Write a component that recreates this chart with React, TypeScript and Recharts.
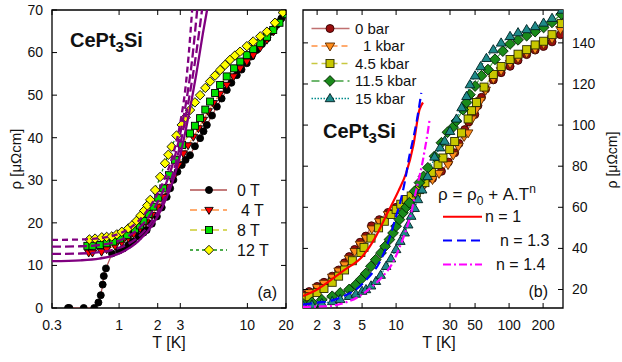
import { LineChart, Line, XAxis, YAxis, ReferenceArea, Legend } from "recharts";

const FONT = "'Liberation Sans', Arial, Helvetica, sans-serif";

// ---------- panel (a): rho(T) in field ----------
const tA0 = [0.4, 0.41, 0.53, 0.64, 0.69, 0.72, 0.745, 0.76, 0.79, 0.88, 1.0, 1.08, 1.18, 1.29, 1.42, 1.55, 1.64, 1.8, 1.97, 2.15, 2.35, 2.5, 2.65, 2.85, 3.08, 3.3, 3.57, 3.9, 4.28, 4.55, 4.83, 5.3, 5.78, 6.3, 6.91, 7.5, 8.27, 9.0, 9.89, 10.8, 11.8, 13.0, 14.2, 15.5, 16.9, 18.4, 20];
const rhoA0 = [0, 0, 0, 0, 1.3, 3.0, 5.5, 7.5, 9.3, 12.8, 13.5, 14.0, 14.8, 15.6, 16.8, 17.7, 18.3, 19.8, 21.5, 23.6, 26.1, 28.1, 30.1, 32.0, 33.6, 34.8, 35.9, 38.0, 39.9, 41.5, 43.0, 45.2, 47.3, 49.2, 51.2, 52.9, 54.7, 56.0, 57.5, 59.1, 60.6, 62.0, 63.3, 64.9, 66.5, 68.0, 69.4];

const tA4 = [0.58, 0.62, 0.73, 0.8, 0.93, 1.05, 1.18, 1.3, 1.46, 1.62, 1.8, 2.0, 2.21, 2.42, 2.65, 2.9, 3.17, 3.45, 3.79, 4.15, 4.54, 4.95, 5.43, 6.1, 6.91, 7.8, 8.77, 9.9, 11.1, 12.6, 14.2, 16.0, 17.8, 19.8];
const rhoA4 = [13.0, 13.0, 13.2, 13.8, 14.6, 15.4, 16.4, 17.4, 18.7, 20.1, 21.8, 23.8, 26.1, 28.4, 30.8, 33.6, 36.3, 38.2, 40.2, 42.2, 44.2, 46.2, 48.1, 50.3, 52.4, 54.4, 56.3, 57.9, 59.4, 61.2, 63.0, 65.0, 67.1, 69.2];

const tA8 = [0.566, 0.62, 0.711, 0.8, 0.9, 1.02, 1.15, 1.33, 1.45, 1.55, 1.7, 1.85, 2.02, 2.21, 2.45, 2.73, 3.1, 3.57, 3.9, 4.28, 4.7, 5.12, 5.6, 6.13, 6.9, 7.88, 8.8, 9.89, 11.1, 12.6, 14.2, 15.9, 17.8, 19.8];
const rhoA8 = [14.6, 14.6, 14.8, 15.2, 15.6, 16.3, 17.1, 18.5, 19.4, 20.5, 22.1, 23.8, 25.9, 28.1, 31.2, 34.8, 38.3, 41.0, 42.8, 44.6, 46.6, 48.5, 50.5, 52.4, 54.4, 56.3, 57.9, 59.4, 60.8, 62.2, 63.7, 65.3, 67.0, 69.0];

const tA12 = [0.587, 0.65, 0.733, 0.8, 0.877, 0.96, 1.05, 1.18, 1.27, 1.37, 1.47, 1.57, 1.66, 1.75, 1.91, 2.09, 2.28, 2.42, 2.57, 2.8, 3.08, 3.3, 3.57, 3.9, 4.28, 4.7, 5.12, 5.6, 6.13, 6.7, 7.33, 8.0, 8.77, 9.9, 11.1, 12.6, 14.2, 16.4, 18.9];
const rhoA12 = [16.1, 16.3, 16.6, 16.7, 16.8, 17.3, 17.9, 18.7, 19.5, 20.5, 21.7, 22.9, 24.1, 25.4, 27.7, 30.8, 34.0, 36.0, 37.9, 40.5, 43.0, 44.8, 46.5, 48.3, 50.0, 51.7, 53.2, 54.6, 55.9, 57.1, 58.3, 59.3, 60.2, 61.5, 62.6, 63.8, 64.9, 67.0, 69.4];

// purple fits
const tFitA0 = [0.3, 0.5, 0.7, 0.9, 1.1, 1.4, 1.8, 2.2, 2.6, 3.0, 3.5, 4.0, 4.5, 4.85];
const rhoFitA0 = [11.0, 11.2, 11.6, 12.3, 13.4, 15.6, 19.3, 24, 29.5, 36, 45.5, 55, 64.5, 70];
const tFitA4 = [0.3, 0.5, 0.7, 0.9, 1.1, 1.4, 1.8, 2.2, 2.6, 3.0, 3.5, 4.0, 4.43];
const rhoFitA4 = [12.7, 12.8, 13.1, 13.7, 14.6, 16.6, 20.3, 25, 31, 38.5, 49, 60, 70];
const tFitA8 = [0.3, 0.5, 0.7, 0.9, 1.1, 1.4, 1.8, 2.2, 2.6, 3.0, 3.4, 3.7, 4.06];
const rhoFitA8 = [14.4, 14.5, 14.8, 15.4, 16.4, 18.5, 22.5, 27.5, 33.5, 41, 50, 58, 70];
const tFitA12 = [0.3, 0.5, 0.7, 0.9, 1.1, 1.4, 1.8, 2.2, 2.6, 3.0, 3.3, 3.5, 3.71];
const rhoFitA12 = [16.0, 16.1, 16.4, 17.0, 18.0, 20.3, 24.5, 29.5, 35.5, 43.5, 52, 60, 70];

const ticksXA = [0.3, 1, 2, 3, 10, 20];
const ticksYA = [0, 10, 20, 30, 40, 50, 60, 70];

// ---------- panel (b): rho(T) under pressure ----------
const tB0 = [1.5, 1.7, 2.0, 2.3, 2.72, 3.1, 3.5, 3.84, 4.3, 4.8, 5.4, 6.06, 7.1, 8.5, 10, 12, 14.5, 17.3, 21, 25.2, 29, 33, 36, 40.5, 44, 49.7, 53, 57, 62, 72.5, 85, 102, 120, 143, 170, 202, 240, 285];
const rhoB0 = [17.5, 19, 21.5, 23.5, 26.5, 29.5, 33, 36, 39.5, 43, 46, 51, 54, 57.5, 60, 63.5, 67, 71, 74, 77.5, 82, 86.5, 91, 97.8, 101.5, 105.1, 109.5, 113.5, 117.5, 122, 125.5, 128.6, 131.5, 134.3, 136.5, 138.3, 140.5, 144];

const tB1 = [1.5, 1.7, 2.0, 2.3, 2.72, 3.1, 3.5, 3.84, 4.3, 4.8, 5.4, 6.1, 7.1, 8.5, 10, 12, 14.5, 17.3, 21, 24, 28.8, 32, 35.5, 40, 43.4, 47, 51, 56, 62, 72.5, 85, 102, 120, 143, 170, 202, 240, 285];
const rhoB1 = [17, 18.5, 21, 23, 26, 29, 32, 35, 38.5, 42, 45, 49.5, 53, 56.5, 59, 62.5, 66, 70.2, 73.5, 76.5, 80.8, 85.5, 89.7, 94.5, 96.2, 103, 107.5, 112, 117, 122.5, 126.5, 130, 132.5, 135, 137, 139.5, 142, 146.5];

const tB45 = [1.5, 1.7, 2.0, 2.3, 2.72, 3.1, 3.5, 4.1, 4.88, 5.2, 6.0, 7.0, 7.87, 9.0, 10, 11, 12.3, 13.6, 15.1, 16.1, 18, 20.5, 23.5, 26, 29.8, 33, 37.9, 43.4, 46.5, 51.5, 60, 72.5, 85, 102, 120, 143, 170, 202, 240, 290];
const rhoB45 = [15, 16.5, 18.5, 20.5, 23.5, 26.5, 29.5, 34, 38, 40.5, 45, 50, 53.2, 56.5, 59, 61.5, 63.8, 65.5, 67, 68.6, 72, 77, 80.8, 84, 88.1, 92, 96.2, 103, 107, 111, 118.5, 124.6, 128.5, 131.9, 134.5, 136.7, 139, 140.8, 144, 149.4];

const tB115 = [1.5, 1.8, 2.2, 2.72, 3.2, 3.84, 4.4, 4.88, 5.4, 5.99, 6.6, 7.35, 8.0, 8.73, 9.4, 10, 10.7, 11.5, 12.3, 13.1, 14.6, 16.1, 17.5, 19.1, 21.9, 25.2, 28.5, 31.9, 34.2, 39.2, 42, 45, 50, 57, 65, 75, 88, 102, 120, 143, 170, 202, 240, 290];
const rhoB115 = [13, 13.8, 15, 16.7, 18.3, 20, 22.3, 24.9, 27.8, 31.3, 34.5, 37.8, 41, 44.3, 47.5, 50.8, 54, 57.3, 60, 62.2, 67.8, 72, 75, 79.2, 84.8, 91.4, 96.5, 99, 102, 107.5, 111, 114.8, 119, 124, 127, 132, 136, 139.5, 141.5, 143.5, 145.5, 147.5, 150, 154];

const tB15 = [1.5, 1.8, 2.2, 2.72, 3.2, 3.84, 4.4, 5.0, 5.41, 6.0, 6.63, 7.3, 8.15, 9.0, 10, 10.9, 11.9, 12.8, 13.6, 14.6, 15.6, 17, 19, 21.9, 24.5, 26.9, 30, 34.2, 38, 42, 45, 50, 56, 63, 72.5, 85, 102, 120, 143, 170, 202, 240, 293];
const rhoB15 = [12, 12.5, 13.2, 14.2, 15.2, 16.7, 17.8, 19.2, 20, 21.8, 24, 27, 31.3, 35, 39.5, 43.5, 47.6, 51.5, 55.7, 59.5, 63.8, 68.5, 75, 84.5, 89, 92.2, 97, 103, 108.5, 114, 119.7, 124, 128.5, 132.5, 136.7, 140, 143.2, 145, 146.5, 148, 149.7, 152, 156];

// fits rho = rho0 + A.T^n
const tFitB1 = [1.5, 2.0, 2.55, 3.5, 5.05, 6.5, 8.4, 10.5, 12.3, 14.2, 16.1, 17.3];
const rhoFitB1 = [16.8, 20, 24, 29.5, 36.2, 45, 57.3, 68, 76.8, 90, 107.5, 111];
const tFitB13 = [1.5, 2, 2.55, 3.5, 4.41, 5.5, 7.1, 8.5, 10, 11, 12, 13.1, 14, 15, 16, 16.7];
const rhoFitB13 = [12.6, 13.6, 14.3, 17, 20, 25, 33, 43, 55.7, 63.5, 73, 84.8, 92, 100, 109, 115.7];
const tFitB14 = [1.5, 2, 2.55, 3.5, 4.5, 6.19, 7.5, 9.33, 11, 12.3, 13.5, 15.1, 16, 17, 18, 19, 19.8];
const rhoFitB14 = [11.5, 11.7, 11.9, 13.5, 16, 21.6, 26, 33, 42, 49.2, 56.5, 68.6, 74.5, 81, 88.5, 96, 102.7];

const ticksXB = [2, 3, 5, 10, 20, 30, 50, 100, 200];
const ticksYB = [20, 40, 60, 80, 100, 120, 140];

const zip = (t: number[], r: number[]) => t.map((T, i) => ({ T, rho: r[i] }));

type Shape = "circle" | "down" | "square" | "diamond" | "up";

function Glyph({ cx, cy, shape, fill, stroke, r }: { cx: number; cy: number; shape: Shape; fill: string; stroke: string; r: number }) {
  const sw = 0.9;
  if (shape === "circle") return <circle cx={cx} cy={cy} r={r} fill={fill} stroke={stroke} strokeWidth={sw} />;
  if (shape === "square") return <rect x={cx - r} y={cy - r} width={2 * r} height={2 * r} fill={fill} stroke={stroke} strokeWidth={sw} />;
  let pts = "";
  if (shape === "down") pts = `${cx - r * 1.2},${cy - r * 0.75} ${cx + r * 1.2},${cy - r * 0.75} ${cx},${cy + r * 1.25}`;
  if (shape === "up") pts = `${cx - r * 1.2},${cy + r * 0.8} ${cx + r * 1.2},${cy + r * 0.8} ${cx},${cy - r * 1.25}`;
  if (shape === "diamond") pts = `${cx},${cy - r * 1.35} ${cx + r * 1.35},${cy} ${cx},${cy + r * 1.35} ${cx - r * 1.35},${cy}`;
  return <polygon points={pts} fill={fill} stroke={stroke} strokeWidth={sw} />;
}

const dotOf = (shape: Shape, fill: string, stroke: string, r: number) => (p: any) => {
  const k = p.key ?? `d${p.index}`;
  if (p.cx == null || p.cy == null) return <g key={k} />;
  return <Glyph key={k} cx={p.cx} cy={p.cy} shape={shape} fill={fill} stroke={stroke} r={r} />;
};

function XTick({ x, y, payload, top }: any) {
  return (
    <g>
      <line x1={x} x2={x} y1={y} y2={y - 5} stroke="#000" />
      <line x1={x} x2={x} y1={top} y2={top + 5} stroke="#000" />
      <text x={x} y={y + 22} textAnchor="middle" fontSize={14} fontFamily={FONT} fill="#111">{payload.value}</text>
    </g>
  );
}

function YTick({ x, y, payload, width, side }: any) {
  const other = side === "left" ? x + width : x - width;
  const d = side === "left" ? 5 : -5;
  return (
    <g>
      <line x1={x} x2={x + d} y1={y} y2={y} stroke="#000" />
      <line x1={other} x2={other - d} y1={y} y2={y} stroke="#000" />
      {payload.value !== undefined && (
        <text x={side === "left" ? x - 9 : x + 9} y={y} dy="0.35em" textAnchor={side === "left" ? "end" : "start"} fontSize={14} fontFamily={FONT} fill="#111">
          {payload.value}
        </text>
      )}
    </g>
  );
}

const seriesA = [
  { name: "0 T", data: zip(tA0, rhoA0), line: "#b05050", dash: undefined, shape: "circle" as Shape, fill: "#000", tx: 237 },
  { name: "4 T", data: zip(tA4, rhoA4), line: "#ff9040", dash: "7 4", shape: "down" as Shape, fill: "#ff0000", tx: 241 },
  { name: "8 T", data: zip(tA8, rhoA8), line: "#cccc30", dash: "7 4", shape: "square" as Shape, fill: "#00e000", tx: 237 },
  { name: "12 T", data: zip(tA12, rhoA12), line: "#109010", dash: "3 3", shape: "diamond" as Shape, fill: "#ffff00", tx: 237 },
];
const fitsA = [
  { key: "f0", data: zip(tFitA0, rhoFitA0), dash: undefined },
  { key: "f4", data: zip(tFitA4, rhoFitA4), dash: "9 4" },
  { key: "f8", data: zip(tFitA8, rhoFitA8), dash: "9 4" },
  { key: "f12", data: zip(tFitA12, rhoFitA12), dash: "6 4" },
];

const seriesB = [
  { name: "0 bar", data: zip(tB0, rhoB0), line: "#c07070", dash: undefined, shape: "circle" as Shape, fill: "#9a0e0e", stroke: "#300", tx: 65 },
  { name: "1 kbar", data: zip(tB1, rhoB1), line: "#ff9040", dash: "6 4", shape: "down" as Shape, fill: "#ff8c1a", stroke: "#5a2a00", tx: 73 },
  { name: "4.5 kbar", data: zip(tB45, rhoB45), line: "#c8c840", dash: "6 4", shape: "square" as Shape, fill: "#c8c800", stroke: "#2a2a00", tx: 65 },
  { name: "11.5 kbar", data: zip(tB115, rhoB115), line: "#40a040", dash: "8 4", shape: "diamond" as Shape, fill: "#1a8a1a", stroke: "#002000", tx: 65 },
  { name: "15 kbar", data: zip(tB15, rhoB15), line: "#008b8b", dash: "1.5 1.5", shape: "up" as Shape, fill: "#1f8a8a", stroke: "#002020", tx: 65 },
];
const fitsB = [
  { name: "n = 1", data: zip(tFitB1, rhoFitB1), color: "#ff0000", dash: undefined, tx: 195 },
  { name: "n = 1.3", data: zip(tFitB13, rhoFitB13), color: "#0000ff", dash: "9 5", tx: 210 },
  { name: "n = 1.4", data: zip(tFitB14, rhoFitB14), color: "#ff00ff", dash: "8 3 2 3", tx: 206 },
];

function LegendA() {
  const rows = [190, 210, 230, 250];
  return (
    <svg width={300} height={362} style={{ position: "absolute", left: 0, top: 0 }}>
      {seriesA.map((s, i) => (
        <g key={s.name}>
          <line x1={190} x2={227} y1={rows[i]} y2={rows[i]} stroke={s.line} strokeWidth={1.5} strokeDasharray={s.dash} />
          <Glyph cx={209} cy={rows[i]} shape={s.shape} fill={s.fill} stroke="#000" r={3.5} />
          <text x={s.tx} y={rows[i]} dy="0.36em" fontSize={16} fontFamily={FONT} fill="#111">{s.name}</text>
        </g>
      ))}
    </svg>
  );
}

function LegendB() {
  const rows = [28.5, 46, 63.5, 81, 98.5];
  const rowsFit = [216.7, 240.5, 264.5];
  return (
    <svg width={332} height={362} style={{ position: "absolute", left: 0, top: 0 }}>
      {seriesB.map((s, i) => (
        <g key={s.name}>
          <line x1={21.5} x2={59.5} y1={rows[i]} y2={rows[i]} stroke={s.line} strokeWidth={1.5} strokeDasharray={s.dash} />
          <Glyph cx={40} cy={rows[i]} shape={s.shape} fill={s.fill} stroke={s.stroke} r={4} />
          <text x={s.tx} y={rows[i]} dy="0.36em" fontSize={15} fontFamily={FONT} fill="#111">{s.name}</text>
        </g>
      ))}
      <text x={148} y={200} fontSize={17} fontFamily={FONT} fill="#111">
        ρ = ρ<tspan dy={5} fontSize={12}>0</tspan>
        <tspan dy={-5}> + A.T</tspan>
        <tspan dy={-7} fontSize={12}>n</tspan>
      </text>
      {fitsB.map((f, i) => (
        <g key={f.name}>
          <line x1={153} x2={192} y1={rowsFit[i]} y2={rowsFit[i]} stroke={f.color} strokeWidth={2} strokeDasharray={f.dash} />
          <text x={f.tx} y={rowsFit[i]} dy="0.36em" fontSize={16} fontFamily={FONT} fill="#111">{f.name}</text>
        </g>
      ))}
    </svg>
  );
}

function PanelA() {
  return (
    <LineChart width={300} height={362} margin={{ top: 10, right: 14, left: 0, bottom: 0 }}>
      <XAxis dataKey="T" type="number" scale="log" domain={[0.3, 20]} allowDataOverflow ticks={ticksXA} height={54} tickSize={0} tickMargin={0} axisLine={false} tick={(p: any) => <XTick {...p} top={10} />} />
      <YAxis type="number" domain={[0, 70]} allowDataOverflow ticks={ticksYA} width={52} tickSize={0} tickMargin={0} axisLine={false} tick={(p: any) => <YTick {...p} side="left" width={234} />} />
      <ReferenceArea x1={0.3} x2={20} y1={0} y2={70} fill="none" fillOpacity={0} stroke="#000" strokeWidth={1.3} ifOverflow="visible" />
      {seriesA.map((s) => (
        <Line key={s.name} data={s.data} dataKey="rho" name={s.name} type="linear" stroke={s.line} strokeWidth={1.2} strokeDasharray={s.dash} dot={dotOf(s.shape, s.fill, "#000", 3.5)} activeDot={false} isAnimationActive={false} />
      ))}
      <Legend layout="vertical" align="center" verticalAlign="middle" content={() => <LegendA />} wrapperStyle={{ left: 0, top: 0, width: 300, height: 362, pointerEvents: "none" }} />
      <text x={70} y={47} fontSize={20} fontWeight="bold" fontFamily={FONT} fill="#111">
        CePt<tspan dy={5} fontSize={15}>3</tspan>
        <tspan dy={-5}>Si</tspan>
      </text>
      <text x={277} y={292} dy="0.35em" textAnchor="end" fontSize={16} fontFamily={FONT} fill="#111">(a)</text>
      <text x={16} y={159} transform="rotate(-90 16 159)" textAnchor="middle" dy="0.35em" fontSize={15} fontFamily={FONT} fill="#111">ρ [μΩcm]</text>
      <text x={169} y={348} textAnchor="middle" fontSize={16} fontFamily={FONT} fill="#111">T [K]</text>
    </LineChart>
  );
}

// fit curves drawn in a transparent chart on top, so they stay above the markers
function PanelAFits() {
  return (
    <LineChart width={300} height={362} margin={{ top: 10, right: 14, left: 52, bottom: 54 }}>
      <XAxis dataKey="T" type="number" scale="log" domain={[0.3, 20]} allowDataOverflow hide />
      <YAxis type="number" domain={[0, 70]} allowDataOverflow hide />
      {fitsA.map((f) => (
        <Line key={f.key} data={f.data} dataKey="rho" type="monotone" stroke="#800080" strokeWidth={2.3} strokeDasharray={f.dash} dot={false} activeDot={false} legendType="none" isAnimationActive={false} />
      ))}
    </LineChart>
  );
}

function PanelB() {
  return (
    <LineChart width={332} height={362} margin={{ top: 10, right: 0, left: 13, bottom: 0 }}>
      <XAxis dataKey="T" type="number" scale="log" domain={[1.5, 300]} allowDataOverflow ticks={ticksXB} height={54} tickSize={0} tickMargin={0} axisLine={false} tick={(p: any) => <XTick {...p} top={10} />} />
      <YAxis type="number" orientation="right" domain={[11, 156]} allowDataOverflow ticks={ticksYB} width={59} tickSize={0} tickMargin={0} axisLine={false} tick={(p: any) => <YTick {...p} side="right" width={260} />} />
      <ReferenceArea x1={1.5} x2={300} y1={11} y2={156} fill="none" fillOpacity={0} stroke="#000" strokeWidth={1.3} ifOverflow="visible" />
      {seriesB.map((s) => (
        <Line key={s.name} data={s.data} dataKey="rho" name={s.name} type="linear" stroke={s.line} strokeWidth={1.2} strokeDasharray={s.dash} dot={dotOf(s.shape, s.fill, s.stroke, 4)} activeDot={false} isAnimationActive={false} />
      ))}
      <Legend layout="vertical" align="center" verticalAlign="middle" content={() => <LegendB />} wrapperStyle={{ left: 0, top: 0, width: 332, height: 362, pointerEvents: "none" }} />
      <text x={33} y={138} fontSize={20} fontWeight="bold" fontFamily={FONT} fill="#111">
        CePt<tspan dy={5} fontSize={15}>3</tspan>
        <tspan dy={-5}>Si</tspan>
      </text>
      <text x={258} y={291} dy="0.35em" textAnchor="end" fontSize={16} fontFamily={FONT} fill="#111">(b)</text>
      <text x={322} y={160} transform="rotate(-90 322 160)" textAnchor="middle" dy="0.35em" fontSize={14} fontFamily={FONT} fill="#111">ρ [μΩcm]</text>
      <text x={149} y={348} textAnchor="middle" fontSize={16} fontFamily={FONT} fill="#111">T [K]</text>
    </LineChart>
  );
}

function PanelBFits() {
  return (
    <LineChart width={332} height={362} margin={{ top: 10, right: 59, left: 13, bottom: 54 }}>
      <XAxis dataKey="T" type="number" scale="log" domain={[1.5, 300]} allowDataOverflow hide />
      <YAxis type="number" domain={[11, 156]} allowDataOverflow hide />
      {fitsB.map((f) => (
        <Line key={f.name} data={f.data} dataKey="rho" name={f.name} type="monotone" stroke={f.color} strokeWidth={2.2} strokeDasharray={f.dash} dot={false} activeDot={false} legendType="none" isAnimationActive={false} />
      ))}
    </LineChart>
  );
}

export default function App() {
  return (
    <div style={{ position: "absolute", left: 0, top: 0, width: 622, height: 362, background: "#fff", fontFamily: FONT }}>
      <div style={{ position: "absolute", left: 0, top: 0 }}>
        <PanelA />
      </div>
      <div style={{ position: "absolute", left: 0, top: 0, pointerEvents: "none" }}>
        <PanelAFits />
      </div>
      <div style={{ position: "absolute", left: 290, top: 0 }}>
        <PanelB />
      </div>
      <div style={{ position: "absolute", left: 290, top: 0, pointerEvents: "none" }}>
        <PanelBFits />
      </div>
    </div>
  );
}
